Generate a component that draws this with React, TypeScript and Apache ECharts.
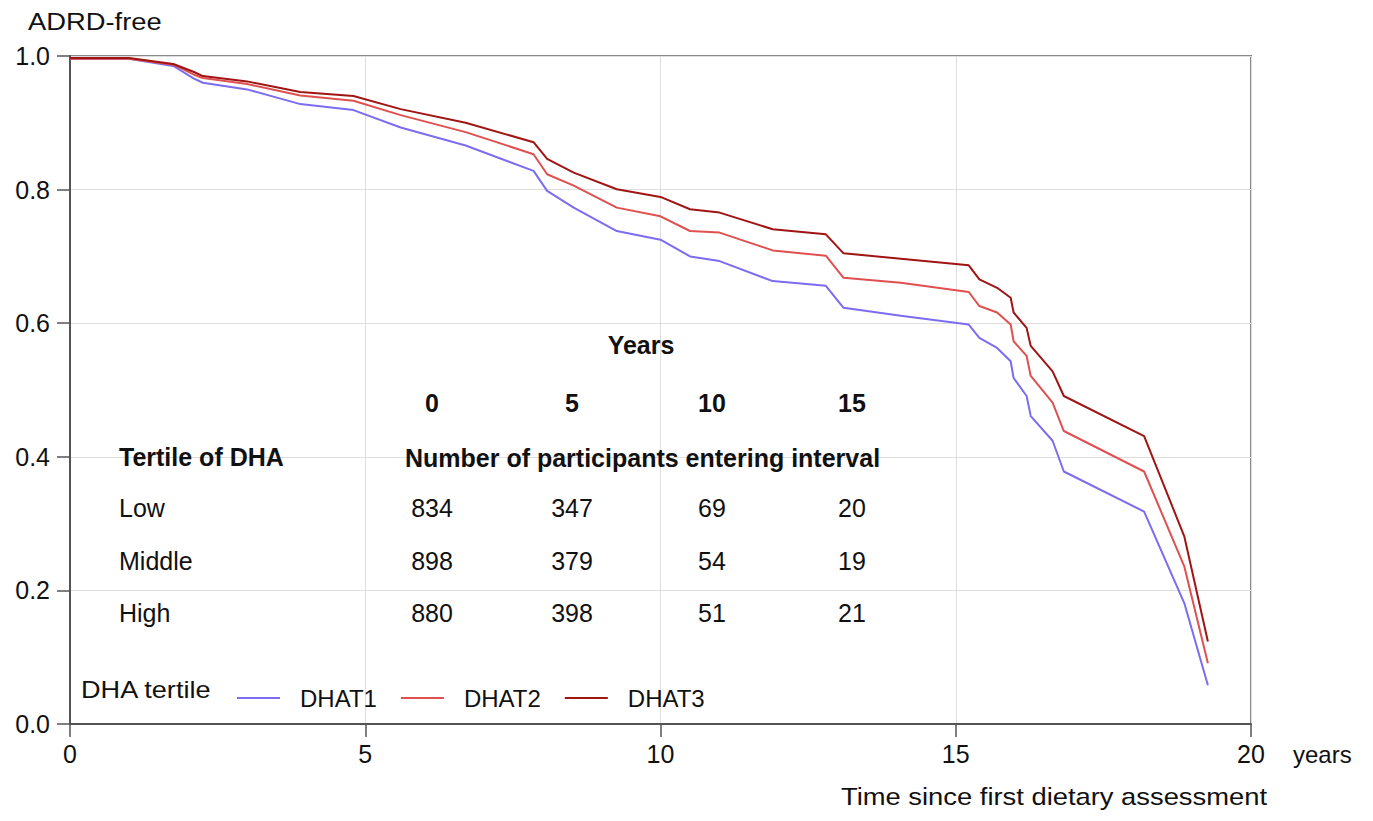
import React, { useEffect, useRef } from 'react';
import * as echarts from 'echarts';

// ---- data ----
const times = [0, 1.0, 1.75, 2.1, 2.25, 3.0, 3.9, 4.8, 5.6, 6.7, 7.85, 8.08, 8.53, 9.26, 10.0, 10.5, 11.0, 11.9, 12.8, 13.1, 14.07, 15.22, 15.4, 15.7, 15.93, 15.98, 16.2, 16.27, 16.64, 16.83, 18.19, 18.87, 19.27];
const dhat1 = [0.996, 0.996, 0.985, 0.966, 0.96, 0.95, 0.928, 0.919, 0.893, 0.866, 0.828, 0.798, 0.773, 0.738, 0.725, 0.7, 0.693, 0.663, 0.656, 0.623, 0.611, 0.598, 0.578, 0.563, 0.543, 0.518, 0.491, 0.461, 0.424, 0.378, 0.318, 0.181, 0.058];
const dhat2 = [0.996, 0.996, 0.987, 0.972, 0.967, 0.958, 0.941, 0.933, 0.9115, 0.886, 0.853, 0.823, 0.806, 0.773, 0.76, 0.738, 0.7356, 0.709, 0.701, 0.668, 0.6605, 0.6467, 0.6257, 0.616, 0.598, 0.573, 0.551, 0.521, 0.481, 0.4386, 0.378, 0.236, 0.091];
const dhat3 = [0.997, 0.997, 0.988, 0.976, 0.97, 0.962, 0.946, 0.94, 0.9205, 0.9, 0.871, 0.846, 0.8255, 0.8006, 0.789, 0.7706, 0.7656, 0.7406, 0.733, 0.7046, 0.6966, 0.6867, 0.6657, 0.653, 0.638, 0.616, 0.593, 0.566, 0.528, 0.491, 0.431, 0.281, 0.1234];
const seriesNames = ['DHAT1', 'DHAT2', 'DHAT3'];
const seriesColors = ['#7c6cf0', '#e05050', '#a01414'];

const tableYears = ['0', '5', '10', '15'];
const tertileLabels = ['Low', 'Middle', 'High'];
const countsLow = [834, 347, 69, 20];
const countsMiddle = [898, 379, 54, 19];
const countsHigh = [880, 398, 51, 21];

const FONT = '"Liberation Sans", Arial, Helvetica, sans-serif';

export default function App() {
  const ref = useRef<HTMLDivElement>(null);

  useEffect(() => {
    if (!ref.current) return;
    const chart = echarts.init(ref.current, undefined, { renderer: 'svg' });

    const allSeries = [dhat1, dhat2, dhat3].map((vals, i) => ({
      name: seriesNames[i],
      type: 'line',
      data: times.map((t, j) => [t, vals[j]]),
      showSymbol: false,
      symbol: 'none',
      lineStyle: { color: seriesColors[i], width: 2 },
      itemStyle: { color: seriesColors[i] },
      z: 3 + i,
    }));

    const colX = [432, 572, 712, 852];
    const rowY = [508, 561, 613];
    const countRows = [countsLow, countsMiddle, countsHigh];
    const txt = (text: string, x: number, y: number, opts: any = {}) => ({
      type: 'text',
      x,
      y,
      scaleX: opts.scaleX ?? 1,
      z: 10,
      style: {
        text,
        fill: '#111',
        fontFamily: FONT,
        fontSize: opts.size ?? 25,
        fontWeight: opts.bold ? 'bold' : 'normal',
        align: opts.align ?? 'center',
        verticalAlign: 'middle',
      },
    });

    const graphics: any[] = [
      txt('ADRD-free', 28, 22, { align: 'left', size: 24, scaleX: 1.14 }),
      txt('years', 1293, 754, { align: 'left', size: 24 }),
      txt('Time since first dietary assessment', 1267, 797, { align: 'right', size: 24, scaleX: 1.14 }),
      txt('DHA tertile', 81, 690, { align: 'left', size: 24, scaleX: 1.13 }),
      txt('Years', 641, 345, { bold: true }),
      txt('Tertile of DHA', 119, 457, { bold: true, align: 'left', scaleX: 1.0 }),
      txt('Number of participants entering interval', 405, 458, { bold: true, align: 'left', scaleX: 1.0 }),
    ];
    tableYears.forEach((y, i) => graphics.push(txt(y, colX[i], 403, { bold: true })));
    tertileLabels.forEach((lab, r) => {
      graphics.push(txt(lab, 119, rowY[r], { align: 'left' }));
      countRows[r].forEach((v, c) => graphics.push(txt(String(v), colX[c], rowY[r])));
    });

    chart.setOption({
      animation: false,
      backgroundColor: '#fff',
      grid: {
        left: 70,
        top: 56,
        right: 122,
        bottom: 821 - 724,
        show: true,
        borderColor: '#8a8a8a',
        borderWidth: 2,
        backgroundColor: 'transparent',
      },
      legend: {
        data: seriesNames,
        left: 232,
        top: 681,
        orient: 'horizontal',
        icon: 'rect',
        itemWidth: 43,
        itemHeight: 2,
        itemGap: 24,
        textStyle: {
          fontFamily: FONT,
          fontSize: 24,
          color: '#111',
          padding: [6, 0, 0, 15],
        },
      },
      xAxis: {
        type: 'value',
        min: 0,
        max: 20,
        interval: 5,
        axisLine: { show: true, lineStyle: { color: '#555', width: 2 } },
        axisTick: { show: true, length: 13, lineStyle: { color: '#555', width: 1.5 } },
        axisLabel: { fontFamily: FONT, fontSize: 25, color: '#111', margin: 17 },
        splitLine: { show: true, lineStyle: { color: '#dedede', width: 1 } },
      },
      yAxis: {
        type: 'value',
        min: 0,
        max: 1,
        interval: 0.2,
        axisLine: { show: true, lineStyle: { color: '#555', width: 2 } },
        axisTick: { show: true, length: 13, lineStyle: { color: '#555', width: 1.5 } },
        axisLabel: {
          fontFamily: FONT,
          fontSize: 25,
          color: '#111',
          margin: 20,
          formatter: (v: number) => v.toFixed(1),
        },
        splitLine: { show: true, lineStyle: { color: '#dedede', width: 1 } },
      },
      series: allSeries,
      graphic: graphics,
    });

    return () => chart.dispose();
  }, []);

  return (
    <div
      ref={ref}
      style={{ position: 'fixed', left: 0, top: 0, width: 1373, height: 821, background: '#fff' }}
    />
  );
}
